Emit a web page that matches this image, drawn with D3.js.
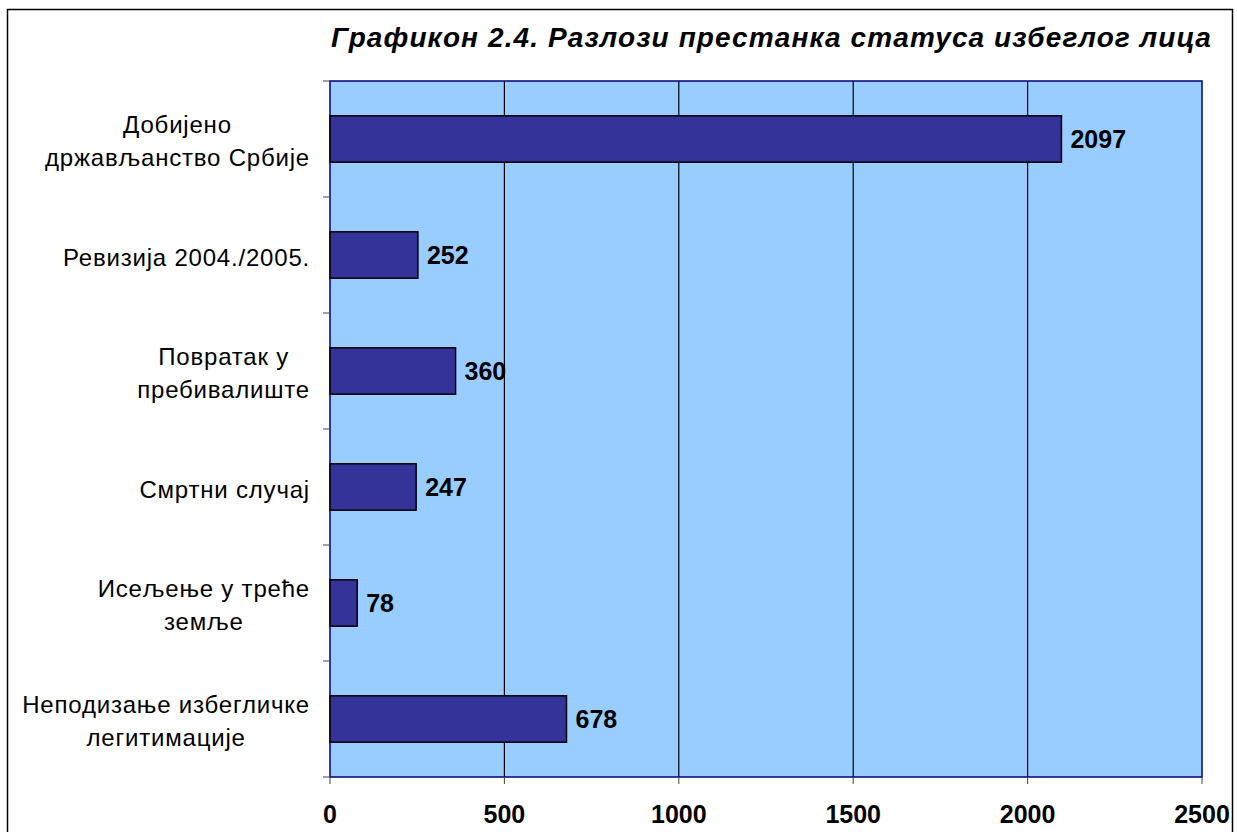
<!DOCTYPE html>
<html>
<head>
<meta charset="utf-8">
<script src="https://cdn.jsdelivr.net/npm/d3@7"></script>
<style>
  body { margin: 0; background: #fff; }
  text { font-family: "Liberation Sans", Arial, sans-serif; fill: #000; }
  .cat { font-size: 24px; letter-spacing: 0.8px; }
  .val { font-size: 25px; font-weight: bold; }
  .tick-label { font-size: 25px; font-weight: bold; }
  .title { font-size: 28px; font-weight: bold; font-style: italic; letter-spacing: 1.1px; }
</style>
</head>
<body>
<svg width="1237" height="832"></svg>
<script>
// data
var categories = [
  ["Добијено", "држављанство Србије"],
  ["Ревизија 2004./2005."],
  ["Повратак у", "пребивалиште"],
  ["Смртни случај"],
  ["Исељење у треће", "земље"],
  ["Неподизање избегличке", "легитимације"]
];
var values = [2097, 252, 360, 247, 78, 678];
var xTicks = [0, 500, 1000, 1500, 2000, 2500];
var title = "Графикон 2.4. Разлози престанка статуса избеглог лица";

var svg = d3.select("svg");
var plot = { left: 330, right: 1202, top: 81, bottom: 777 };

// outer chart border
svg.append("rect")
  .attr("x", 7.5).attr("y", 9.5)
  .attr("width", 1225).attr("height", 840)
  .attr("fill", "#fff").attr("stroke", "#000").attr("stroke-width", 1.5);

var x = d3.scaleLinear().domain([0, 2500]).range([plot.left, plot.right]);
var y = d3.scaleBand().domain(d3.range(categories.length)).range([plot.top, plot.bottom]);

// plot background
svg.append("rect")
  .attr("x", plot.left).attr("y", plot.top)
  .attr("width", plot.right - plot.left).attr("height", plot.bottom - plot.top)
  .attr("fill", "#99ccff");

// gridlines
svg.selectAll(".grid")
  .data(xTicks.slice(1, -1))
  .enter().append("line")
  .attr("x1", d => x(d)).attr("x2", d => x(d))
  .attr("y1", plot.top).attr("y2", plot.bottom)
  .attr("stroke", "#000").attr("stroke-width", 1.2);

// plot border
svg.append("rect")
  .attr("x", plot.left).attr("y", plot.top)
  .attr("width", plot.right - plot.left).attr("height", plot.bottom - plot.top)
  .attr("fill", "none").attr("stroke", "#000080").attr("stroke-width", 1.5);

// bars
var barH = y.bandwidth() * 0.4;
svg.selectAll(".bar")
  .data(values)
  .enter().append("rect")
  .attr("x", x(0))
  .attr("y", (d, i) => y(i) + (y.bandwidth() - barH) / 2)
  .attr("width", d => x(d) - x(0))
  .attr("height", barH)
  .attr("fill", "#333399").attr("stroke", "#000").attr("stroke-width", 1.5);

// value labels
svg.selectAll(".val")
  .data(values)
  .enter().append("text")
  .attr("class", "val")
  .attr("x", d => x(d) + 9)
  .attr("y", (d, i) => y(i) + y.bandwidth() / 2)
  .attr("dy", "0.36em")
  .text(d => d);

// y ticks at category boundaries
var yBounds = d3.range(categories.length + 1).map(i => plot.top + i * y.step());
svg.selectAll(".ytick")
  .data(yBounds)
  .enter().append("line")
  .attr("x1", plot.left - 7).attr("x2", plot.left)
  .attr("y1", d => d).attr("y2", d => d)
  .attr("stroke", "#444").attr("stroke-width", 1);

// x ticks
svg.selectAll(".xtick")
  .data(xTicks)
  .enter().append("line")
  .attr("x1", d => x(d)).attr("x2", d => x(d))
  .attr("y1", plot.bottom).attr("y2", plot.bottom + 7)
  .attr("stroke", "#444").attr("stroke-width", 1);

svg.selectAll(".tick-label")
  .data(xTicks)
  .enter().append("text")
  .attr("class", "tick-label")
  .attr("x", d => x(d))
  .attr("y", 823)
  .attr("text-anchor", "middle")
  .text(d => d);

// category labels: block right-aligned to axis, lines centered inside
var lineH = 33;
categories.forEach(function (lines, i) {
  var g = svg.append("text").attr("class", "cat").attr("text-anchor", "middle");
  var cy = y(i) + y.bandwidth() / 2 + 2;
  var spans = lines.map(function (ln, k) {
    return g.append("tspan")
      .attr("y", cy + (k - (lines.length - 1) / 2) * lineH)
      .attr("dy", "0.36em")
      .text(ln);
  });
  var w = d3.max(spans, s => s.node().getComputedTextLength());
  spans.forEach(s => s.attr("x", 310 - w / 2));
});

// title
svg.append("text")
  .attr("class", "title")
  .attr("x", 1212).attr("y", 47)
  .attr("text-anchor", "end")
  .text(title);
</script>
</body>
</html>
